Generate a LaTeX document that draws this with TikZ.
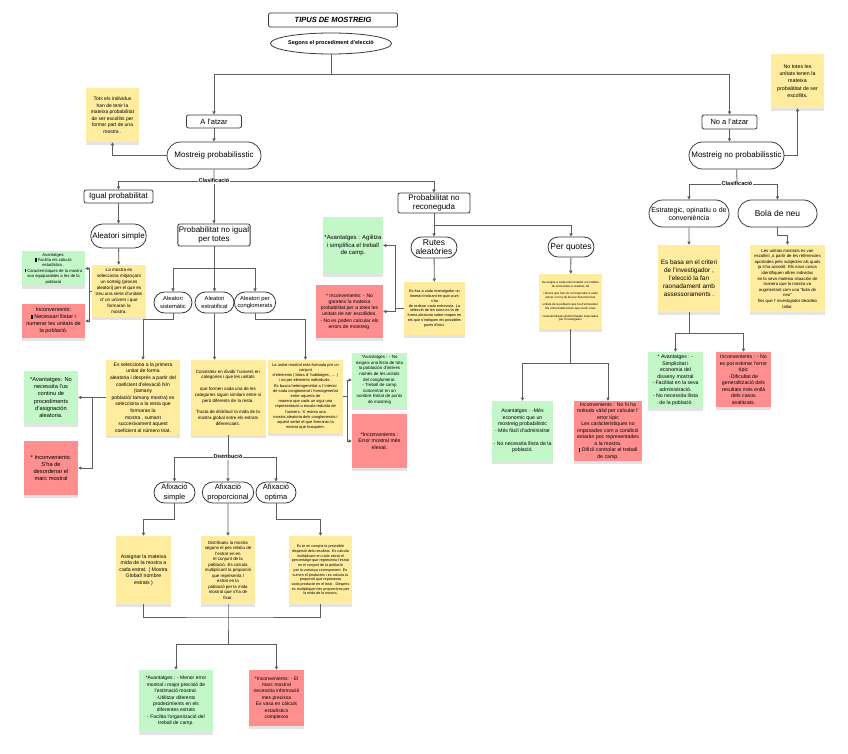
\documentclass[tikz,border=0pt]{standalone}
\usepackage{fontspec}
\setmainfont{Liberation Sans}
\usepackage{tikz}
\usetikzlibrary{arrows.meta,positioning,calc,shapes.misc,shapes.geometric,shadows}
\usepackage{xcolor}
\definecolor{stickyyel}{HTML}{FFEC9E}
\definecolor{stickygrn}{HTML}{C3F7C8}
\definecolor{stickyred}{HTML}{FF8F8F}
\definecolor{conngray}{HTML}{5E5E5E}
\definecolor{boxline}{HTML}{3A3A3A}
\newcommand{\fsz}[2]{\fontsize{#1}{#2}\selectfont}
\newcommand{\sqb}{\rule[-0.1ex]{0.3em}{0.75em}}

\begin{document}
\begin{tikzpicture}[x=1pt, y=-1pt, >={Triangle[length=3.2pt,width=3.2pt]},
  conn/.style={draw=conngray, line width=0.8pt},
  arr/.style={conn,->},
  box/.style={draw=boxline, line width=0.8pt, rounded corners=2pt, fill=white, align=center, inner sep=1pt},
  pill/.style={rounded rectangle, draw=boxline, line width=0.8pt, fill=white, align=center, inner sep=1pt},
  sticky/.style={align=center, inner sep=1pt, drop shadow={opacity=0.22, shadow xshift=0pt, shadow yshift=-3pt}},
  yel/.style={sticky, fill=stickyyel},
  grn/.style={sticky, fill=stickygrn},
  rd/.style={sticky, fill=stickyred},
  clabel/.style={fill=white, inner sep=0.6pt, font=\bfseries\fsz{5.5}{6}}]

  \fill[white] (0,0) rectangle (848,754);
  \useasboundingbox (0,0) rectangle (848,754);

  % top
  \node[box, minimum width=129, minimum height=14, font=\bfseries\itshape\fsz{7.5}{9}] (title) at (333,20) {TIPUS DE MOSTREIG};
  \node[ellipse, draw=boxline, line width=0.8pt, inner sep=0pt, minimum width=98, minimum height=21, font=\bfseries\fsz{5.5}{6.5}] (seg) at (331,43.5) {Segons el procediment d'elecció};

  \node[box, minimum width=55, minimum height=13, font=\fsz{7.5}{9}] (atz) at (214,121.5) {A l'atzar};
  \node[pill, minimum width=96, minimum height=27, font=\fsz{8}{9}] (mp) at (214,155.5) {Mostreig probabilisstic};
  \node[yel, minimum width=53, minimum height=54, font=\fsz{5}{6.5}] (tots) at (112.5,115) {Tots els individus\\han de tenir la\\mateixa probabilitat\\de ser escollits per\\formar part de una\\mostra .};

  \node[box, minimum width=55, minimum height=14, font=\fsz{7.5}{9}] (nat) at (729.5,122) {No a l'atzar};
  \node[pill, minimum width=97, minimum height=27, font=\fsz{8}{9}] (mnp) at (736.5,155.5) {Mostreig no probabilisstic};
  \node[yel, minimum width=53, minimum height=54, font=\fsz{5.3}{7.3}] (nott) at (797.5,81) {No totes les\\unitats tenen la\\mateixa\\probalititat de ser\\escollits.};

  \node[clabel] (cl1) at (214,181) {Clasificació};
  \node[clabel] (cl2) at (737,184) {Clasificació};

  % no probabilistic branch
  \node[pill, minimum width=82, minimum height=27, font=\fsz{7}{8}] (est) at (689,213.5) {Estrategic, opinatiu o de\\conveniència};
  \node[pill, minimum width=81, minimum height=27, font=\fsz{8.5}{9}] (bol) at (777.5,213.5) {Bola de neu};
  \node[yel, minimum width=62, minimum height=67, font=\fsz{6.4}{8}] (estY) at (689,278.5) {Es basa en el criteri\\de l'investigador ,\\l'elecció la fan\\raonadament amb\\assessoraments .};
  \node[yel, minimum width=75, minimum height=67, font=\fsz{4.3}{5.6}] (bolY) at (787.5,278.5) {Les unitats mostrals es van\\escollint ,a partir de les referencies\\aportades pels subjectes als quals\\ja s'ha accedit. Els nous casos\\identifiquen altres individus\\en la seva mateixa situación de\\manera que la mostra va\\augmentant com una “bola de\\neu”\\fins que l' investigador decideix\\tallar.};
  \node[grn, minimum width=55, minimum height=56, font=\fsz{5.2}{6.5}] (estA) at (675.5,380) {* Avantatges : -\\Simplicitat i\\economia del\\disseny mostral\\- Facilitat en la seva\\administració.\\- No necessita llista\\de la població};
  \node[rd, minimum width=55, minimum height=55, font=\fsz{5.2}{6.5}] (estI) at (743.5,379.5) {Inconvenients : - No\\es pot estimar l'error\\típic\\-Dificultat de\\generalització dels\\resultats més enllà\\dels casos\\analitzats.};

  % igual probabilitat
  \node[box, minimum width=69, minimum height=13, font=\fsz{8}{9}] (igu) at (118.5,196.5) {Igual probabilitat};
  \node[pill, minimum width=53, minimum height=24, font=\fsz{8}{9}] (sim) at (118.5,236) {Aleatori simple};
  \node[yel, minimum width=54, minimum height=52, font=\fsz{4.6}{6}] (simY) at (119,291) {La mostra es\\selecciona mitjançant\\un sorteig (proces\\aleatori) per el que es\\treu una serie d'unitats\\d' un univers i que\\formaran la\\mostra.};
  \node[grn, minimum width=63, minimum height=35, font=\fsz{4.2}{5.4}] (simA) at (53.5,268.5) {Avantatges:\\\sqb\ Facilita els càlculs\\estadístics .\\\sqb\ Característiques de la mostra\\son equiparables a les de la\\població};
  \node[rd, minimum width=63, minimum height=34, font=\fsz{5.5}{7}] (simI) at (53.5,321) {Inconvenients:\\\sqb\ Necessari llistar i\\numerar les unitats de\\la població.};

  % probabilitat no igual
  \node[box, minimum width=72, minimum height=22, font=\fsz{8}{9}] (pni) at (214,235) {Probabilitat no igual\\per totes};
  \node[pill, minimum width=40, minimum height=21, font=\fsz{5.8}{7.5}] (sis) at (173,302.5) {Aleatori\\sistemàtic};
  \node[pill, minimum width=41, minimum height=21, font=\fsz{5.8}{7.5}] (estr) at (214.5,302.5) {Aleatori\\estratificat};
  \node[pill, minimum width=40, minimum height=21, font=\fsz{5.8}{7.5}] (con) at (255,302.5) {Aleatori per\\conglomerats};

  \node[yel, minimum width=74, minimum height=75, font=\fsz{5}{6.6}] (sisY) at (143,397.5) {Es selecciona a la primera\\unitat de forma\\aleatoria i després a partir del\\coeficient d'elevació N/n\\(tamany\\població/ tamany mostra) es\\selecciona a la resta que\\formaran la\\mostra , sumant\\succesivament aquest\\coeficient al número triat.};
  \node[grn, minimum width=54, minimum height=53, font=\fsz{5.7}{7.3}] (sisA) at (51,397.5) {*Avantatges: No\\necessita l'us\\continu de\\procediments\\d'asignación\\aleatoria.};
  \node[rd, minimum width=54, minimum height=54, font=\fsz{5.7}{7.2}] (sisI) at (51,468) {* Inconvenients:\\S'ha de\\desordenar el\\marc mostral};

  \node[yel, minimum width=75, minimum height=75, font=\fsz{4.5}{5.8}] (strY) at (228,397.5) {Consisteix en dividir l'univers en\\categories i que les unitats\\[5.8pt]que formen cada una de les\\categories siguin similars entre si\\però diferents de la resta.\\[5.8pt]Tracta de distribuir la mida de la\\mostra global entre els estrats\\diferenciats.};

  \node[yel, minimum width=75, minimum height=73, font=\fsz{4}{5.2}] (conY) at (305.5,396.5) {La unitat mostral esta formada por un\\conjunt\\d'elements ( blocs d' habitatges , ... )\\i no per elements individuals .\\Es busca heterogeneïtat a l' interior\\de cada conglomerat i homogeneïtat\\entre aquests de\\manera que cada un sigui una\\representació a escala reduïda de\\l'univers. S' estreu una\\mostra aleatoria dels conglomerats i\\aquest seràn el que formaran la\\mostra que busquem.};
  \node[grn, minimum width=55, minimum height=54, font=\fsz{4.4}{5.6}] (conA) at (379.5,380) {*Avantatges : - No\\exigeix una llista de tota\\la población d'interes\\només de les unitats\\del conglomerat.\\- Treball de camp\\concentrat en un\\nombre limitat de punts\\de mostreig};
  \node[rd, minimum width=55, minimum height=54, font=\fsz{5.3}{6.7}] (conI) at (379.5,441) {*Inconvenients :\\Error mostral més\\elevat.};

  % afixacio
  \node[clabel] (dis) at (228,457) {Distribució};
  \node[pill, minimum width=43, minimum height=21, font=\fsz{7.5}{9.5}] (afs) at (174.5,492.5) {Afixació\\simple};
  \node[pill, minimum width=50, minimum height=21, font=\fsz{7.5}{9.5}] (afp) at (228,492.5) {Afixació\\proporcional};
  \node[pill, minimum width=42, minimum height=21, font=\fsz{7.5}{9.5}] (afo) at (276,492.5) {Afixació\\optima};

  \node[yel, minimum width=55, minimum height=68, font=\fsz{5.2}{6.5}] (afsY) at (143.5,570) {Assignar la mateixa\\mida de la mostra a\\cada estrat. ( Mostra\\Global/ nombre\\estrats )};
  \node[yel, minimum width=54, minimum height=68, font=\fsz{4.4}{5.5}] (afpY) at (228,570) {Distribueix la mostra\\segons el pes relatiu de\\l'estrat en en\\el conjunt de la\\població. Es calcula\\multiplicant la proporció\\que representa l\\estrat en la\\població per la mida\\mostral que s'ha de\\fixar.};
  \node[yel, minimum width=63, minimum height=68, font=\fsz{3.7}{4.7}] (afoY) at (320.5,570) {Es te en compte la previsible\\dispersió dels resultats. Es calcula\\multiplicant en cada estrat el\\percentatge que representa l'estrat\\en el conjunt de la població\\per la variança corresponent. Es\\sumen el productes i es calcula la\\proporció que representa\\cada producte en el total . Despres\\es multipliquen les proporcions per\\la mida de la mostra.};

  \coordinate (j1) at (228,617);
  \coordinate (j2) at (228,644);
  \node[grn, minimum width=74, minimum height=62, font=\fsz{5}{6.4}] (stA) at (176,701) {*Avantatges : - Menor error\\mostral i major precisió de\\l'estimació mostral.\\-Utilitzar diferents\\prodecimients en els\\diferentes estrats\\- Facilita l'organització del\\treball de camp.};
  \node[rd, minimum width=55, minimum height=56, font=\fsz{5}{6.4}] (stI) at (276.5,698) {*Inconvenients: - El\\marc mostral\\necessita informació\\mes precissa\\Es vasa en càlculs\\estadístics\\complexos};

  % probabilitat no reconeguda
  \node[box, minimum width=72, minimum height=20, font=\fsz{8}{9}] (pnr) at (434,203) {Probabilitat no\\reconeguda};
  \node[pill, minimum width=48, minimum height=21, font=\fsz{8.5}{9}] (rut) at (434,247.5) {Rutes\\aleatòries};
  \node[pill, minimum width=48, minimum height=20, font=\fsz{8.5}{9}] (quo) at (571,247) {Per quotes};
  \node[yel, minimum width=61, minimum height=53, font=\fsz{3.8}{4.8}] (rutY) at (434.5,308.5) {Es fixa a cada investigador un\\itinerari indicant en quin punt\\s'ha\\de realizar cada entrevista. La\\selecció de les rutes es fa de\\forma aleatoria sobre mapes en\\els que s'indiquen els possibles\\punts d'inici.};
  \node[yel, minimum width=63, minimum height=55, font=\fsz{3}{3.7}] (quoY) at (570.5,301.5) {Se asigna a cada entrevistador un nombre\\de entrevistes a realitzar, tal\\[3.7pt]i diu les que han de correspondre a cada\\estrat i on ha de buscar lliurement les\\[3.7pt]unitats de la població que ha d'entrevistar.\\Els entrevistats tenen que reunir unes\\[3.7pt]característiques determinades imposades\\per l'investigador};
  \node[grn, minimum width=60, minimum height=57, font=\fsz{6}{7.5}] (rutA) at (353,245.5) {*Avantatges : Agilitza\\i simplifica el treball\\de camp.};
  \node[rd, minimum width=67, minimum height=53, font=\fsz{5}{6.3}] (rutI) at (349.5,311.5) {* Inconvenients: - No\\garateix la mateixa\\probabilitat per a totes les\\unitats de ser escollides.\\- No es poden calcular els\\errors de mostreig.};
  \node[grn, minimum width=61, minimum height=60, font=\fsz{5.2}{6.5}] (quoA) at (522.5,431) {Avantatges : -Més\\economic que un\\mostreig probabilistic\\- Més fàcil d'administrar\\[6.5pt]- No necessita llista de la\\població.};
  \node[rd, minimum width=68, minimum height=60, font=\fsz{5.2}{6.5}] (quoI) at (608,431) {Inconvenients : No hi ha\\método vàlid per calcular l'\\error típic\\Les caràcteristiques no\\imposades com a condició\\estaràn poc representades\\a la mostra.\\\sqb\ Difícil controlar el treball\\de camp.};

  % connectors
  \draw[arr] (seg.south) -- ++(0,20) -| (atz);
  \draw[arr] (seg.south) -- ++(0,20) -| (nat);
  \draw[arr] (atz) -- (mp);
  \draw[arr] (mp) -| (tots);
  \draw[arr] (nat) -- (nat |- mnp.north);
  \draw[arr] (mnp) -| (nott);

  \draw[conn] (mp) -- (cl1);
  \draw[arr] (cl1) -| (igu);
  \draw[arr] (cl1) -- (pni);
  \draw[arr] (cl1) -| (pnr);

  \draw[conn] (mnp) -- (cl2);
  \draw[arr] (cl2) -| (est);
  \draw[arr] (cl2) -| (bol);
  \draw[arr] (est) -- (estY);
  \draw[arr] (bol.south) -- ++(0,8) -| (bolY);
  \draw[arr] (estY.south) -- ++(0,21) -| (estA);
  \draw[arr] (estY.south) -- ++(0,21) -| (estI);

  \draw[arr] (igu) -- (sim);
  \draw[arr] (sim) -- (simY);
  \coordinate (b1) at (89,291);
  \draw[conn] (simY) -- (b1);
  \draw[arr] (b1) |- (simA);
  \draw[arr] (b1) |- (simI);

  \draw[arr] (pni.south) -- ++(0,22) -| (sis);
  \draw[arr] (pni.south) -- ++(0,22) -| (estr);
  \draw[arr] (pni.south) -- ++(0,22) -| (con);
  \draw[arr] (sis.south) -- ++(0,6) -| (sisY);
  \draw[arr] (estr) -- (estr |- strY.north);
  \draw[arr] (con.south) -- ++(0,6) -| (conY);

  \coordinate (b2) at (92,397.5);
  \draw[arr] (sisY) -- (sisA);
  \draw[arr] (b2) |- (sisI);
  \coordinate (b3) at (347,396.5);
  \draw[conn] (conY) -- (b3);
  \draw[arr] (b3) |- (conA);
  \draw[arr] (b3) |- (conI);

  \draw[conn] (strY) -- (dis);
  \draw[arr] (dis) -| (afs);
  \draw[arr] (dis) -- (afp);
  \draw[arr] (dis) -| (afo);
  \draw[arr] (afs.south) -- ++(0,16) -| (afsY);
  \draw[arr] (afp) -- (afpY);
  \draw[arr] (afo.south) -- ++(0,16) -| (afoY);
  \draw[conn] (afsY) |- (j1) -| (afoY);
  \draw[conn] (afpY) -- (j1) -- (j2);
  \draw[arr] (j2) -| (stA);
  \draw[arr] (j2) -| (stI);

  \draw[arr] (pnr.south) -- ++(0,12) -| (rut);
  \draw[arr] (pnr.south) -- ++(0,12) -| (quo);
  \draw[arr] (rut) -- (rutY);
  \draw[arr] (quo) -- (quoY);
  \coordinate (b4) at (395,308.5);
  \draw[conn] (rutY) -- (b4);
  \draw[arr] (b4) |- (rutA);
  \draw[arr] (b4) |- (rutI);
  \draw[arr] (quoY.south) -- ++(0,34) -| (quoA);
  \draw[arr] (quoY.south) -- ++(0,34) -| (quoI);
\end{tikzpicture}
\end{document}
